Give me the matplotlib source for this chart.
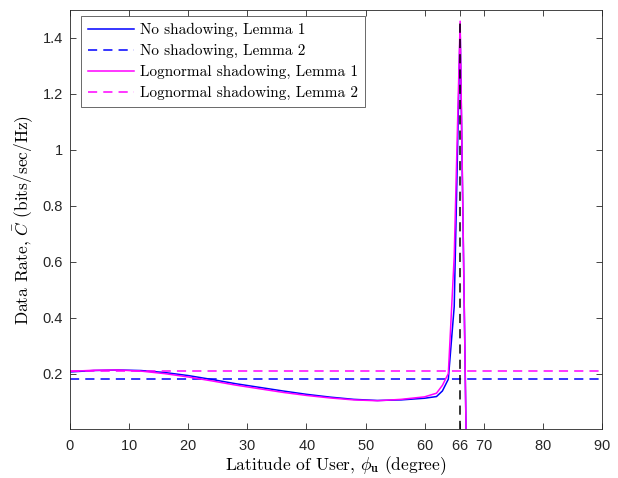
import matplotlib
matplotlib.use("Agg")
import matplotlib.pyplot as plt
from matplotlib.ticker import FuncFormatter

# == data ==
# latitude samples (degree) and rates for both channel models
lat = [0, 4, 8, 12, 16, 20, 24, 28, 32, 36, 40, 44, 48, 52, 56, 60, 62, 63, 64, 65, 66, 67]
rate_noshadow = [0.206, 0.211, 0.213, 0.211, 0.204, 0.193, 0.179, 0.164, 0.151, 0.138, 0.126,
                 0.116, 0.108, 0.104, 0.106, 0.112, 0.118, 0.138, 0.18, 0.44, 1.44, 0.0]
rate_lognormal = [0.208, 0.212, 0.213, 0.209, 0.200, 0.188, 0.174, 0.159, 0.146, 0.133, 0.122,
                  0.113, 0.106, 0.103, 0.108, 0.117, 0.130, 0.158, 0.20, 0.62, 1.46, 0.0]
lemma2_noshadow = 0.182
lemma2_lognormal = 0.208
arctic_lat = 66

x_ticks = [0, 10, 20, 30, 40, 50, 60, 66, 70, 80, 90]
y_ticks = [0.2, 0.4, 0.6, 0.8, 1.0, 1.2, 1.4]

plt.rcParams["mathtext.fontset"] = "cm"
plt.rcParams["font.family"] = ["Liberation Sans", "DejaVu Sans"]
plt.rcParams["axes.formatter.use_mathtext"] = True

W, H = 618, 478
fig = plt.figure(figsize=(W / 100, H / 100), dpi=100)
ax = fig.add_axes([70 / W, 49 / H, 532 / W, 419 / H])

lw = 1.1
dash = (0, (6, 4))
ax.plot(lat, rate_noshadow, color="#0000ff", lw=lw, label="No shadowing, Lemma 1")
ax.plot([0, 90], [lemma2_noshadow] * 2, color="#0000ff", lw=lw, ls=dash, label="No shadowing, Lemma 2")
ax.plot(lat, rate_lognormal, color="#ff00ff", lw=lw, label="Lognormal shadowing, Lemma 1")
ax.plot([0, 90], [lemma2_lognormal] * 2, color="#ff00ff", lw=lw, ls=dash, label="Lognormal shadowing, Lemma 2")
ax.plot([arctic_lat, arctic_lat], [0, max(rate_lognormal)], color="black", lw=lw, ls=dash)

ax.set_xlim(0, 90)
ax.set_ylim(0.002, 1.5)
ax.set_xticks(x_ticks)
ax.set_yticks(y_ticks)
ax.yaxis.set_major_formatter(FuncFormatter(lambda v, _: f"{v:g}"))
ax.tick_params(direction="in", length=4, width=0.6, top=True, right=True,
               labelsize=10.5, colors="#262626")
ax.tick_params(axis="x", pad=7)
ax.tick_params(axis="y", pad=5)
for s in ax.spines.values():
    s.set_linewidth(0.6)
    s.set_color("#262626")

cm_font = {"family": "cmr10", "size": 12.5}
ax.set_xlabel(r"Latitude of User, $\phi_{\mathbf{u}}$ (degree)", fontdict=cm_font, labelpad=1)
ax.set_ylabel(r"Data Rate, $\bar{C}$ (bits/sec/Hz)", fontdict=cm_font, labelpad=5)

# legend's top-left corner sits a little inside the axes
leg = ax.legend(loc="upper left", bbox_to_anchor=(81 / W, 1 - 16 / H),
                bbox_transform=fig.transFigure, borderaxespad=0,
                prop={"family": "cmr10", "size": 11},
                frameon=True, fancybox=False, edgecolor="#262626",
                borderpad=0.45, labelspacing=0.45, handlelength=3.0,
                handletextpad=0.4)
leg.get_frame().set_linewidth(0.6)

fig.savefig("out.png", dpi=100)
